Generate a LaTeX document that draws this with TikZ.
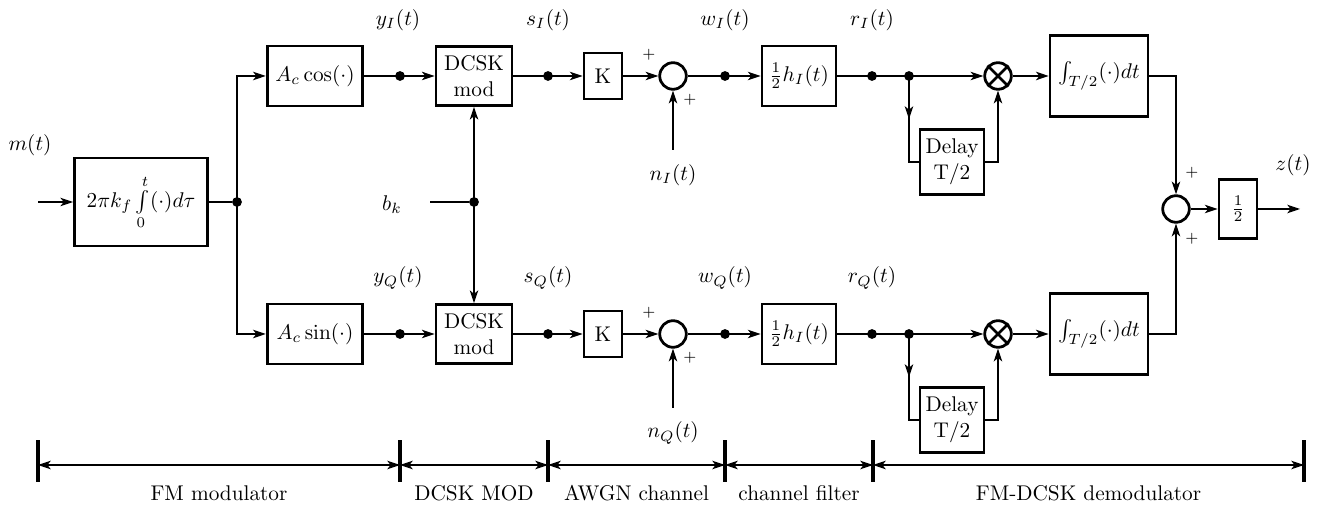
\documentclass[tikz,border=0pt]{standalone}
\usepackage{amsmath}
\usetikzlibrary{arrows.meta,positioning,calc,decorations.markings}

\begin{document}
\begin{tikzpicture}[x=0.47pt,y=0.47pt,
    blk/.style={draw, line width=1.3pt, inner sep=0pt, align=center},
    adder/.style={draw, circle, line width=1.3pt, minimum size=12.5pt, inner sep=0pt},
    junc/.style={circle, fill, inner sep=0pt, minimum size=4.6pt},
    sig/.style={line width=0.6pt},
    arr/.style={sig, -{Stealth[length=6pt,width=4pt,inset=1.6pt]}},
    midarr/.style={sig, postaction={decorate},
      decoration={markings, mark=at position 0.45 with {\arrow{Stealth[length=6pt,width=4pt,inset=1.6pt]}}}},
    dbl/.style={sig, {Stealth[length=6pt,width=4pt,inset=1.6pt]}-{Stealth[length=6pt,width=4pt,inset=1.6pt]}},
    pls/.style={font=\scriptsize, inner sep=0pt},
  ]
  \useasboundingbox (0,0) rectangle (1326,506);

  % FM modulator
  \coordinate (min) at (38,304);
  \node (lm) at (30,361) {$m(t)$};
  \node[blk, minimum width=62.5pt, minimum height=41.4pt] (fm) at (141,304)
    {$2\pi k_f\int\limits_0^t(\cdot)d\tau$};
  \node[junc] (split) at (237,304) {};
  \draw[arr] (min) -- (fm);
  \draw[sig] (fm) -- (split);

  % I and Q branches
  \foreach \ch/\yy/\fn in {I/430/\cos, Q/172/\sin}{
    \node[blk, minimum width=45pt, minimum height=28.2pt] (osc\ch) at (315,\yy) {$A_c\fn(\cdot)$};
    \node[blk, minimum width=35.7pt, minimum height=27.7pt] (mod\ch) at (474,\yy) {DCSK\\mod};
    \node[blk, minimum width=17.9pt, minimum height=21.6pt] (gain\ch) at (603,\yy) {K};
    \node[adder] (add\ch) at (673,\yy) {};
    \node[blk, minimum width=34.8pt, minimum height=28.2pt] (filt\ch) at (799,\yy) {$\frac{1}{2}h_I(t)$};
    \node[adder] (mul\ch) at (998,\yy) {};
    \draw[line width=1.3pt] (mul\ch.north west) -- (mul\ch.south east)
      (mul\ch.north east) -- (mul\ch.south west);
    \node[blk, minimum width=30pt, minimum height=30.5pt] (dly\ch) at (952,\yy-86) {Delay\\T/2};
    \node[blk, minimum width=46pt, minimum height=38pt] (int\ch) at (1099,\yy) {$\int_{T/2}(\cdot)dt$};

    \node[junc] (y\ch) at (400,\yy) {};
    \node[junc] (s\ch) at (548,\yy) {};
    \node[junc] (w\ch) at (725,\yy) {};
    \node[junc] (r\ch) at (872,\yy) {};
    \node[junc] (tap\ch) at (909,\yy) {};

    \node (ly\ch) at (398,\yy+56) {$y_\ch(t)$};
    \node (ls\ch) at (548,\yy+56) {$s_\ch(t)$};
    \node (lw\ch) at (725,\yy+56) {$w_\ch(t)$};
    \node (lr\ch) at (872,\yy+56) {$r_\ch(t)$};
    \node (ln\ch) at (673,\yy-99) {$n_\ch(t)$};
    \coordinate (nin\ch) at (673,\yy-74);
    \node[pls] (pa\ch) at (649,\yy+21) {$+$};
    \node[pls] (pb\ch) at (690,\yy-24) {$+$};

    \draw[arr] (osc\ch) -- (mod\ch);
    \draw[arr] (mod\ch) -- (gain\ch);
    \draw[arr] (gain\ch) -- (add\ch);
    \draw[arr] (add\ch) -- (filt\ch);
    \draw[arr] (filt\ch) -- (mul\ch);
    \draw[arr] (nin\ch) -- (add\ch);
    \draw[midarr] (tap\ch.center) |- (dly\ch.west);
    \draw[arr] (dly\ch.east) -| (mul\ch.south);
    \draw[arr] (mul\ch) -- (int\ch);
    \draw[arr] (split.center) |- (osc\ch);
  }

  % data bits
  \node (lb) at (392,301) {$b_k$};
  \coordinate (bin) at (430,304);
  \node[junc] (bit) at (474,304) {};
  \draw[sig] (bin) -- (bit);
  \draw[arr] (bit.center) -- (modI);
  \draw[arr] (bit.center) -- (modQ);

  % combiner
  \node[adder] (comb) at (1176,297) {};
  \node[blk, minimum width=17.9pt, minimum height=27.7pt] (half) at (1238,297) {$\frac{1}{2}$};
  \coordinate (zout) at (1300,297);
  \node (lz) at (1293,341) {$z(t)$};
  \node[pls] (pc) at (1192,333) {$+$};
  \node[pls] (pd) at (1192,267) {$+$};
  \draw[arr] (intI) -| (comb);
  \draw[arr] (intQ) -| (comb);
  \draw[arr] (comb) -- (half);
  \draw[arr] (half) -- (zout);

  % section ruler
  \foreach \xx [count=\i] in {38,400,548,725,873,1304}{
    \draw[line width=2pt] (\xx,24) -- (\xx,66);
    \coordinate (bar\i) at (\xx,41);
  }
  \foreach \a/\b/\txt in {1/2/FM modulator, 2/3/DCSK MOD, 3/4/AWGN channel,
      4/5/channel filter, 5/6/FM-DCSK demodulator}{
    \draw[dbl] (bar\a) -- (bar\b) node[midway, below=6pt] (sec\a) {\txt};
  }
\end{tikzpicture}
\end{document}
